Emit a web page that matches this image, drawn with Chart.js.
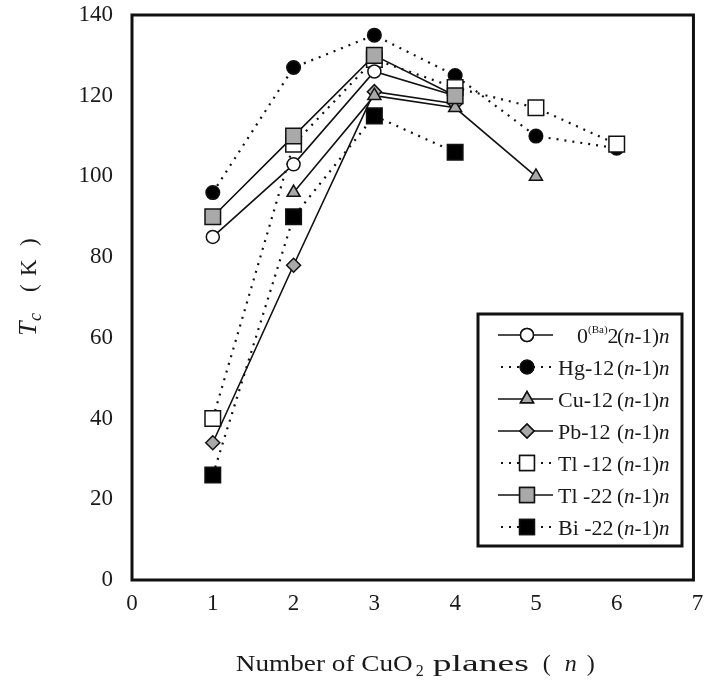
<!DOCTYPE html>
<html><head><meta charset="utf-8">
<script src="https://cdn.jsdelivr.net/npm/chart.js@4.4.1/dist/chart.umd.min.js"></script>
<style>html,body{margin:0;padding:0;background:#fff}</style>
</head><body>
<canvas id="c" width="710" height="684"></canvas>
<script>
// ---- data ----
const nValues = [1, 2, 3, 4, 5, 6];
const ba02   = [85, 103, 126, 120, null, null];
const hg12   = [96, 127, 135, 125, 110, 107];
const cu12   = [null, 96, 120, 117, 100, null];
const pb12   = [34, 78, 121, 118, null, null];
const tl12   = [40, 108, 129, 122, 117, 108];
const tl22   = [90, 110, 130, 120, null, null];
const bi22   = [26, 90, 115, 106, null, null];
const seriesPrefix = ['0^(Ba)2', 'Hg-12', 'Cu-12', 'Pb-12', 'Tl -12', 'Tl -22', 'Bi -22'];
const xTickValues = [0, 1, 2, 3, 4, 5, 6, 7];
const yTickValues = [0, 20, 40, 60, 80, 100, 120, 140];

const GRAY = '#a9a9a9';
const SERIF = '"Liberation Serif", "Times New Roman", serif';

function pts(arr) {
  const out = [];
  arr.forEach((v, i) => { if (v !== null) out.push({x: nValues[i], y: v}); });
  return out;
}

const styles = [
  {style: 'circle',  r: 6.5, fill: '#fff', dash: [],     order: 0},
  {style: 'circle',  r: 6.8, fill: '#000', dash: [2, 6], order: 1},
  {style: 'triangle',r: 7.5, fill: GRAY,   dash: [],     order: 0},
  {style: 'rectRot', r: 7,   fill: GRAY,   dash: [],     order: 0},
  {style: 'rect',    r: 11,  fill: '#fff', dash: [2, 6], order: 0},
  {style: 'rect',    r: 11,  fill: GRAY,   dash: [],     order: -1},
  {style: 'rect',    r: 11,  fill: '#000', dash: [2, 6], order: 0}
];
const seriesData = [ba02, hg12, cu12, pb12, tl12, tl22, bi22];

const datasets = seriesData.map((arr, i) => {
  const s = styles[i];
  return {
    label: seriesPrefix[i] + '(n-1)n',
    data: pts(arr),
    showLine: true,
    borderColor: '#111',
    borderWidth: s.dash.length ? 2.2 : 1.6,
    borderDash: s.dash,
    pointStyle: s.style,
    pointRadius: s.r,
    pointHoverRadius: s.r,
    pointBackgroundColor: s.fill,
    pointBorderColor: '#111',
    pointBorderWidth: 1.5,
    order: s.order,
    tension: 0,
    fill: false
  };
});

function drawParts(ctx, x, y, parts) {
  let cx = x;
  parts.forEach(p => {
    ctx.font = (p.italic ? 'italic ' : '') + p.size + 'px ' + SERIF;
    ctx.fillText(p.t, cx, y + (p.dy || 0));
    cx += ctx.measureText(p.t).width + (p.gap || 0);
  });
  return cx;
}
function fitText(ctx, txt, x, y, w) {
  const m = ctx.measureText(txt).width;
  ctx.save(); ctx.translate(x, y); ctx.scale(w / m, 1); ctx.fillText(txt, 0, 0); ctx.restore();
}

const framePlugin = {
  id: 'frame',
  beforeDatasetsDraw(chart) {
    const {ctx, scales: {x, y}} = chart;
    const l = x.getPixelForValue(0), r = x.getPixelForValue(6.95);
    const t = y.getPixelForValue(140), b = y.getPixelForValue(0);
    ctx.save();
    ctx.strokeStyle = '#111'; ctx.lineWidth = 3;
    ctx.strokeRect(l, t, r - l, b - t);
    ctx.restore();
  }
};

const decoPlugin = {
  id: 'deco',
  afterDraw(chart) {
    const {ctx, chartArea} = chart;
    ctx.save();
    ctx.fillStyle = '#1a1a1a';
    ctx.textBaseline = 'alphabetic';
    ctx.textAlign = 'left';
    // x title
    const cx = (chartArea.left + chartArea.right) / 2;
    const by = 671;
    ctx.font = '24px ' + SERIF;
    fitText(ctx, 'Number of CuO', cx - 179, by, 177);
    ctx.font = '16px ' + SERIF;
    ctx.fillText('2', cx + 1, by + 5);
    ctx.font = '24px ' + SERIF;
    fitText(ctx, 'planes', cx + 18, by, 96);
    ctx.fillText('(', cx + 128, by);
    ctx.font = 'italic 24px ' + SERIF;
    ctx.fillText('n', cx + 150, by);
    ctx.font = '24px ' + SERIF;
    ctx.fillText(')', cx + 172, by);

    // y title (rotated)
    ctx.save();
    ctx.translate(36, 336);
    ctx.rotate(-Math.PI / 2);
    ctx.font = 'italic 26px ' + SERIF;
    ctx.fillText('T', 0, 0);
    ctx.font = 'italic 18px ' + SERIF;
    ctx.fillText('c', 15, 5);
    ctx.font = '23px ' + SERIF;
    ctx.fillText('(', 44, 0);
    ctx.fillText('K', 60, 0);
    ctx.fillText(')', 90, 0);
    ctx.restore();

    // legend
    const L = 478, T = 314, R = 682, B = 546;
    ctx.fillStyle = '#fff';
    ctx.fillRect(L, T, R - L, B - T);
    ctx.strokeStyle = '#111'; ctx.lineWidth = 3;
    ctx.strokeRect(L, T, R - L, B - T);
    const rowY0 = 335, rowStep = 32;
    chart.data.datasets.forEach((ds, i) => {
      const yy = rowY0 + i * rowStep;
      ctx.save();
      ctx.strokeStyle = '#111';
      ctx.lineWidth = ds.borderDash.length ? 2.2 : 1.6;
      ctx.setLineDash(ds.borderDash);
      ctx.beginPath();
      ctx.moveTo(ds.borderDash.length ? 501 : 498, yy);
      ctx.lineTo(553, yy);
      ctx.stroke();
      ctx.setLineDash([]);
      ctx.fillStyle = ds.pointBackgroundColor;
      ctx.lineWidth = 1.5;
      Chart.helpers.drawPoint(ctx, {pointStyle: ds.pointStyle, radius: ds.pointRadius * (ds.pointStyle === 'rect' ? 0.95 : 1), borderWidth: 1.5}, 527, yy);
      ctx.fill(); ctx.stroke();
      ctx.restore();
      ctx.fillStyle = '#1a1a1a';
      const by2 = yy + 8;
      const pre = seriesPrefix[i];
      const m = pre.match(/^(.*)\^\((.*)\)(.*)$/);
      if (m) {
        drawParts(ctx, 577, by2, [
          {t: m[1], size: 22},
          {t: '(' + m[2] + ')', size: 11, dy: -10},
          {t: m[3], size: 22}
        ]);
      } else {
        ctx.font = '22px ' + SERIF;
        ctx.fillText(pre, 558, by2);
      }
      drawParts(ctx, 617, by2, [
        {t: '(', size: 21},
        {t: 'n', size: 21, italic: true},
        {t: '-1)', size: 21},
        {t: 'n', size: 21, italic: true}
      ]);
    });
    ctx.restore();
  }
};

function noPad(s) { s.paddingTop = 0; s.paddingBottom = 0; s.paddingLeft = 0; s.paddingRight = 0; }

new Chart(document.getElementById('c').getContext('2d'), {
  type: 'scatter',
  data: {datasets},
  options: {
    responsive: false,
    animation: false,
    devicePixelRatio: 1,
    layout: {padding: {top: 15, right: 4, left: 0, bottom: 0}},
    plugins: {legend: {display: false}, tooltip: {enabled: false}},
    scales: {
      x: {
        type: 'linear', min: 0, max: 7,
        afterBuildTicks: s => { s.ticks = xTickValues.map(v => ({value: v})); },
        afterFit: s => { s.height = 104; noPad(s); },
        grid: {display: false, drawTicks: false},
        border: {display: false},
        ticks: {padding: 10, color: '#1a1a1a', font: {family: SERIF, size: 23}}
      },
      y: {
        type: 'linear', min: 0, max: 140,
        afterBuildTicks: s => { s.ticks = yTickValues.map(v => ({value: v})); },
        afterFit: s => { s.width = 132; noPad(s); },
        grid: {display: false, drawTicks: false},
        border: {display: false},
        ticks: {padding: 19, color: '#1a1a1a', font: {family: SERIF, size: 23}}
      }
    }
  },
  plugins: [framePlugin, decoPlugin]
});
</script>
</body></html>
